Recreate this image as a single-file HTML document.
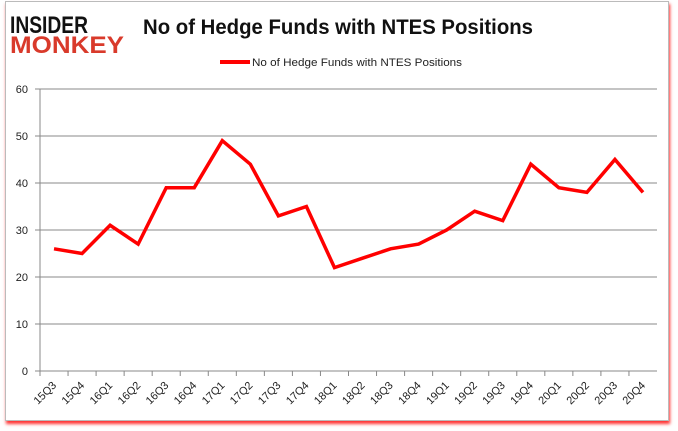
<!DOCTYPE html>
<html><head><meta charset="utf-8"><style>
body{margin:0;width:678px;height:431px;background:#fff;overflow:hidden;font-family:"Liberation Sans",sans-serif}
#frame{position:absolute;left:5px;top:1px;width:662px;height:418px;border:1px solid #bbb;box-shadow:1px 3px 3px #f33;background:#fff}
</style></head><body>
<div id="frame"></div>
<svg width="678" height="431" style="position:absolute;left:0;top:0" id="chart">
<g>
<text x="10" y="33" font-size="24" font-weight="bold" fill="#111" font-family="Liberation Sans" textLength="78" lengthAdjust="spacingAndGlyphs">INSIDER</text>
<text x="10" y="53" font-size="24" font-weight="bold" fill="#d93a2b" font-family="Liberation Sans" textLength="114" lengthAdjust="spacingAndGlyphs">MONKEY</text>
</g>
<text x="338" y="34" font-size="21" font-weight="bold" text-anchor="middle" fill="#111" textLength="390" lengthAdjust="spacingAndGlyphs">No of Hedge Funds with NTES Positions</text>
<line x1="220" y1="62" x2="250" y2="62" stroke="#f00" stroke-width="4"/>
<text x="252" y="66" font-size="11" fill="#222" textLength="210" lengthAdjust="spacingAndGlyphs">No of Hedge Funds with NTES Positions</text>
<g id="grid"></g><g id="axes"></g><g id="series"></g>
</svg>
<script>
const categories=["15Q3","15Q4","16Q1","16Q2","16Q3","16Q4","17Q1","17Q2","17Q3","17Q4","18Q1","18Q2","18Q3","18Q4","19Q1","19Q2","19Q3","19Q4","20Q1","20Q2","20Q3","20Q4"];
const values=[26,25,31,27,39,39,49,44,33,35,22,24,26,27,30,34,32,44,39,38,45,38];
const yTicks=[0,10,20,30,40,50,60];
const NS="http://www.w3.org/2000/svg";
const X0=40,X1=657,Y0=371,Y1=89,YMAX=60;
const step=(X1-X0)/categories.length;
const x=i=>X0+step*(i+0.5);
const y=v=>Y0-(Y0-Y1)*v/YMAX;
function mk(t,a,p){const e=document.createElementNS(NS,t);for(const k in a)e.setAttribute(k,a[k]);p.appendChild(e);return e;}
const grid=document.getElementById('grid'),axes=document.getElementById('axes'),series=document.getElementById('series');
yTicks.forEach(v=>{
 if(v>0){const l=mk('line',{x1:X0,x2:X1,y1:y(v),y2:y(v),stroke:'#888','stroke-width':1},grid);
 
 }
 const tk=mk('line',{x1:X0-5,x2:X0,y1:y(v),y2:y(v),stroke:'#888'},axes);
 
 
 const t=mk('text',{x:X0-12,y:y(v)+4,'font-size':11,'text-anchor':'end',fill:'#222'},axes);t.textContent=v;
 
 
});
const ya=mk('line',{x1:X0,x2:X0,y1:Y1,y2:Y0,stroke:'#888'},axes);


const xa=mk('line',{x1:X0,x2:X1,y1:Y0,y2:Y0,stroke:'#888'},axes);


categories.forEach((c,i)=>{
 const tx=X0+step*i;
 const tk=mk('line',{x1:tx,x2:tx,y1:Y0,y2:Y0+5,stroke:'#888'},axes);
 
 
 const cx=x(i)+3,cy=Y0+15;
 const t=mk('text',{x:cx,y:cy,'font-size':11,'text-anchor':'end',fill:'#222',transform:`rotate(-45 ${cx} ${cy})`},axes);t.textContent=c;
 
 
});
const pts=values.map((v,i)=>x(i)+','+y(v)).join(' ');
const pl=mk('polyline',{points:pts,fill:'none',stroke:'#f00','stroke-width':3.5,'stroke-linejoin':'miter'},series);


</script>
</body></html>
